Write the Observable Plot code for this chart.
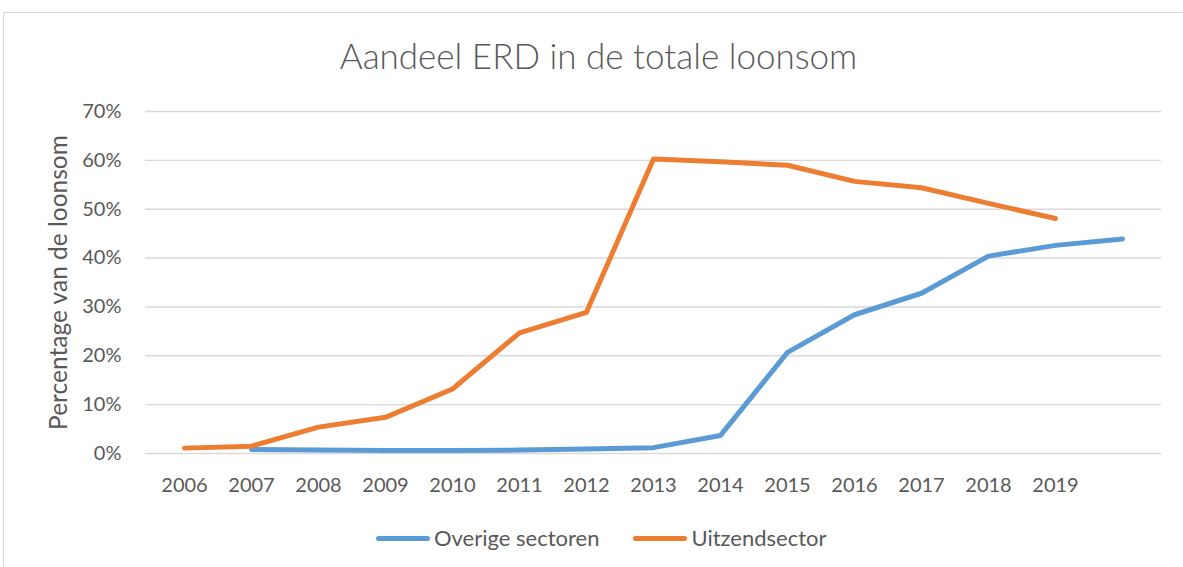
<!DOCTYPE html>
<html>
<head>
<meta charset="utf-8">
<script src="https://cdn.jsdelivr.net/npm/d3@7"></script>
<script src="https://cdn.jsdelivr.net/npm/@observablehq/plot@0.6"></script>
<style>
  html, body { margin: 0; padding: 0; background: #fff; overflow: hidden; }
  body { width: 1183px; height: 567px; position: relative; font-family: Lato, "Open Sans", sans-serif; color: #595959; }
  #frame { position: absolute; left: 3px; top: 12px; width: 1200px; height: 600px; border: 1px solid #d9d9d9; box-sizing: border-box; }
  #title { position: absolute; left: 0; top: 38px; width: 1197px; text-align: center; font-size: 35px; font-weight: 300; line-height: 1; color: #595959; }
  #chart { position: absolute; left: 0; top: 90px; }
  #legend { position: absolute; top: 526px; left: 376px; display: flex; align-items: center; font-size: 22px; line-height: 24px; color: #595959; }
  .item { display: flex; align-items: center; margin-right: 34px; }
  .sw { width: 54px; height: 5px; border-radius: 3px; margin-right: 4px; }
</style>
</head>
<body>
<div id="frame"></div>
<div id="title">Aandeel ERD in de totale loonsom</div>
<div id="chart"></div>
<div id="legend"></div>
<script>
const years = [2006, 2007, 2008, 2009, 2010, 2011, 2012, 2013, 2014, 2015, 2016, 2017, 2018, 2019, 2020];
const tickYears = [2006, 2007, 2008, 2009, 2010, 2011, 2012, 2013, 2014, 2015, 2016, 2017, 2018, 2019];
const overigeSectoren = [null, 0.008, 0.007, 0.006, 0.006, 0.007, 0.009, 0.012, 0.037, 0.207, 0.284, 0.328, 0.404, 0.426, 0.439];
const uitzendsector = [0.011, 0.015, 0.054, 0.074, 0.132, 0.247, 0.289, 0.603, 0.597, 0.590, 0.557, 0.544, 0.512, 0.481, null];
const yTicks = [0, 0.1, 0.2, 0.3, 0.4, 0.5, 0.6, 0.7];
const seriesNames = ["Overige sectoren", "Uitzendsector"];
const seriesColors = ["#5B9BD5", "#ED7D31"];
const yTitle = "Percentage van de loonsom";

const rows = [];
[overigeSectoren, uitzendsector].forEach((vals, i) => {
  years.forEach((yr, j) => {
    if (vals[j] != null) rows.push({year: yr, value: vals[j], series: seriesNames[i]});
  });
});

const chart = Plot.plot({
  width: 1183,
  height: 420,
  marginLeft: 145,
  marginRight: 22,
  marginTop: 21,
  marginBottom: 57,
  style: {fontFamily: "Lato, 'Open Sans', sans-serif", fontSize: "20px", color: "#595959", background: "transparent"},
  x: {type: "point", domain: years, padding: 0.5, align: 0.5},
  y: {domain: [0, 0.7]},
  color: {domain: seriesNames, range: seriesColors},
  marks: [
    Plot.ruleY(yTicks, {stroke: "#d9d9d9", strokeWidth: 1.4}),
    Plot.axisX({ticks: tickYears, tickFormat: d => String(d), tickSize: 0, tickPadding: 24, label: null, fill: "#595959", fontSize: 20}),
    Plot.axisY({ticks: yTicks, tickFormat: d3.format(".0%"), tickSize: 0, tickPadding: 24, label: null, fill: "#595959", fontSize: 20}),
    Plot.text([yTitle], {frameAnchor: "left", dx: -86, rotate: -90, text: d => d, fill: "#595959", fontSize: 24.5, textAnchor: "middle"}),
    Plot.line(rows, {x: "year", y: "value", z: "series", stroke: "series", strokeWidth: 5, strokeLinecap: "round", strokeLinejoin: "round"})
  ]
});
document.getElementById("chart").appendChild(chart);

const legend = document.getElementById("legend");
seriesNames.forEach((name, i) => {
  const item = document.createElement("div");
  item.className = "item";
  const sw = document.createElement("div");
  sw.className = "sw";
  sw.style.background = seriesColors[i];
  const lab = document.createElement("span");
  lab.textContent = name;
  item.appendChild(sw);
  item.appendChild(lab);
  legend.appendChild(item);
});
</script>
</body>
</html>
